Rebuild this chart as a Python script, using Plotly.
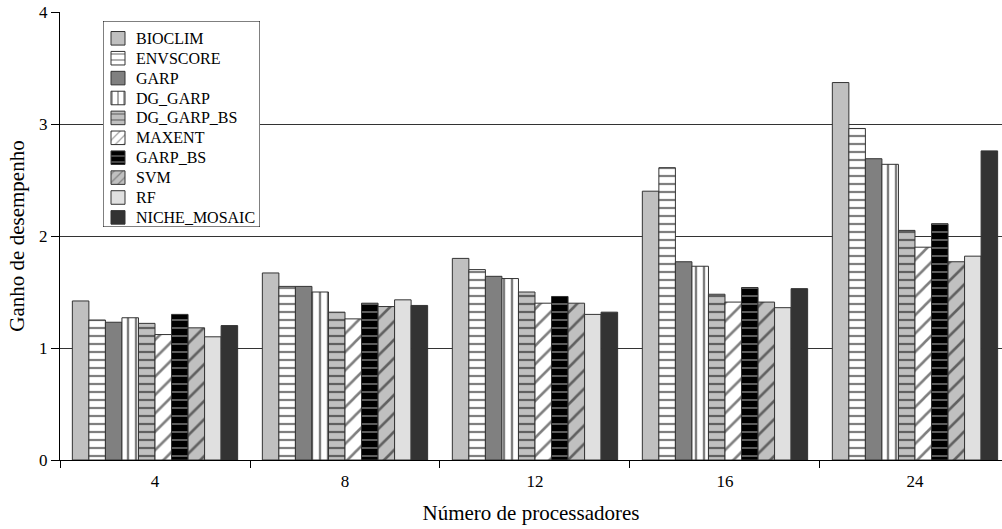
import plotly.graph_objects as go

# Speedup per algorithm for each processor count
processadores = ["4", "8", "12", "16", "24"]

bioclim = [1.42, 1.67, 1.80, 2.40, 3.37]
envscore = [1.25, 1.55, 1.70, 2.61, 2.96]
garp = [1.23, 1.55, 1.64, 1.77, 2.69]
dg_garp = [1.27, 1.50, 1.62, 1.73, 2.64]
dg_garp_bs = [1.22, 1.32, 1.50, 1.48, 2.05]
maxent = [1.12, 1.26, 1.40, 1.41, 1.90]
garp_bs = [1.30, 1.40, 1.46, 1.54, 2.11]
svm = [1.18, 1.37, 1.40, 1.41, 1.77]
rf = [1.10, 1.43, 1.30, 1.36, 1.82]
niche_mosaic = [1.20, 1.38, 1.32, 1.53, 2.76]

names = ["BIOCLIM", "ENVSCORE", "GARP", "DG_GARP", "DG_GARP_BS",
         "MAXENT", "GARP_BS", "SVM", "RF", "NICHE_MOSAIC"]
values = [bioclim, envscore, garp, dg_garp, dg_garp_bs,
          maxent, garp_bs, svm, rf, niche_mosaic]

# fill colour, hatch shape, hatch colour, hatch spacing, hatch solidity
fills = ["#c0c0c0", "#ffffff", "#808080", "#ffffff", "#c0c0c0",
         "#ffffff", "#000000", "#c0c0c0", "#e0e0e0", "#333333"]
hatch = ["", "-", "", "|", "-", "/", "-", "/", "", ""]
hatch_color = ["#000000", "#000000", "#000000", "#000000", "#000000",
               "#000000", "#ffffff", "#000000", "#000000", "#000000"]
hatch_size = [8, 8, 8, 8, 8, 13, 8, 13, 8, 8]
hatch_solid = [0.3, 0.28, 0.3, 0.3, 0.28, 0.2, 0.18, 0.2, 0.3, 0.3]

serif = "Liberation Serif, Times New Roman, serif"
outline = dict(color="#333333", width=1)

fig = go.Figure()
for i, name in enumerate(names):
    fig.add_trace(go.Bar(
        name=name, x=processadores, y=values[i], showlegend=False,
        marker=dict(
            color=fills[i], line=outline,
            pattern=dict(shape=hatch[i], fgcolor=hatch_color[i],
                         size=hatch_size[i], solidity=hatch_solid[i]),
        ),
    ))

# Key: one swatch per algorithm on its own small axes inside a framed box
key_x_range = [-8 / 14, -8 / 14 + 157 / 14]
key_y_range = [(227 - 38.3) / 19.9, (21 - 38.3) / 19.9]
key_rows = list(range(len(names)))
fig.add_trace(go.Bar(
    x=[1] * len(names), y=key_rows, orientation="h", width=0.68,
    xaxis="x2", yaxis="y2", showlegend=False, hoverinfo="skip",
    marker=dict(
        color=fills, line=outline,
        pattern=dict(shape=hatch, fgcolor=hatch_color,
                     size=[6] * len(names), solidity=hatch_solid),
    ),
))
for i, name in enumerate(names):
    fig.add_annotation(
        x=1.64, y=i, xref="x2", yref="y2", text=name, showarrow=False,
        xanchor="left", yanchor="middle",
        font=dict(family=serif, size=16, color="#000000"),
    )
fig.add_shape(
    type="rect", xref="x2", yref="y2",
    x0=key_x_range[0], x1=key_x_range[1],
    y0=key_y_range[0], y1=key_y_range[1], layer="between",
    fillcolor="white", line=dict(color="#000000", width=1),
)

fig.update_layout(
    width=1002,
    height=529,
    margin=dict(l=60, r=0, t=12, b=69),
    paper_bgcolor="white",
    plot_bgcolor="white",
    barmode="group",
    bargap=0.13,
    bargroupgap=0,
    showlegend=False,
    font=dict(family=serif, size=17, color="#000000"),
    xaxis=dict(
        type="category",
        range=[-0.5, 4.458],
        tickson="boundaries",
        ticks="outside", ticklen=7, tickcolor="#000000",
        ticklabelstandoff=6,
        showgrid=False,
        showline=True, linecolor="#000000", linewidth=1,
        title=dict(text="Número de processadores", font=dict(size=21), standoff=14),
        tickfont=dict(size=17),
    ),
    yaxis=dict(
        range=[0, 4],
        dtick=1,
        ticks="outside", ticklen=8, tickcolor="#000000",
        showgrid=True, gridcolor="#333333", gridwidth=1,
        showline=True, linecolor="#000000", linewidth=1,
        zeroline=False,
        title=dict(text="Ganho de desempenho", font=dict(size=21), standoff=8),
        tickfont=dict(size=17),
    ),
    xaxis2=dict(
        domain=[(103 - 60) / 942, (260 - 60) / 942],
        range=key_x_range,
        anchor="y2", visible=False, fixedrange=True,
    ),
    yaxis2=dict(
        domain=[(460 - 227) / 448, (460 - 21) / 448],
        range=key_y_range,
        anchor="x2", visible=False, fixedrange=True,
    ),
)

fig.write_html("out.html")
